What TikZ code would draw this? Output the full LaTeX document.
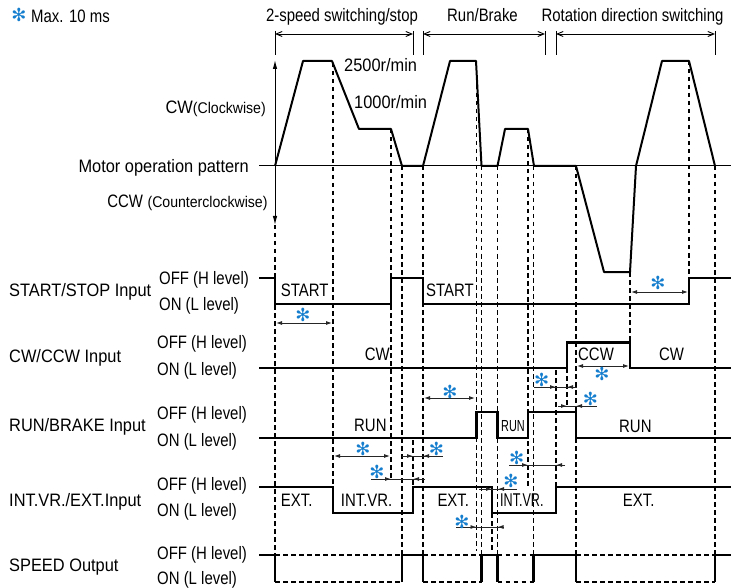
\documentclass[tikz,border=0pt]{standalone}
\usepackage{fontspec}
\setmainfont{Liberation Sans}
\newfontfamily\fN[FakeStretch=0.83]{Liberation Sans}
\newfontfamily\fW[FakeStretch=0.91]{Liberation Sans}
\newfontfamily\fX[FakeStretch=0.68]{Liberation Sans}
\newfontfamily\fSym{DejaVu Sans}
\usetikzlibrary{arrows.meta}
\definecolor{astblue}{RGB}{20,125,205}
\newcommand\odim[5]{%
  \draw[dim] (#2,#1) -- (#5,#1);
  \draw[dimtip] (#2,#1) -- (#3,#1);
  \draw[dimtip] (#5,#1) -- (#4,#1);
}
\tikzset{
  sig/.style={line width=2.1pt, line join=miter},
  wave/.style={line width=2pt, line join=round},
  guide/.style={line width=1.1pt, dash pattern=on 4.5pt off 3.5pt},
  dim/.style={line width=0.9pt, draw=black!85},
  dimtip/.style={dim, -{Latex[length=6pt,width=4pt]}},
  dimboth/.style={dim, {Latex[length=6pt,width=4pt]}-{Latex[length=6pt,width=4pt]}},
  brk/.style={line width=0.9pt, {Straight Barb[length=6pt,width=5pt]}-{Straight Barb[length=6pt,width=5pt]}},
  ast/.style={text=astblue, font=\fSym\fontsize{18}{18}\selectfont, inner sep=0pt},
  lbl/.style={font=\fW\fontsize{18}{20}\selectfont, inner sep=0pt, anchor=base west},
  lvl/.style={font=\fN\fontsize{18}{20}\selectfont, inner sep=0pt, anchor=base west},
  hdr/.style={font=\fN\fontsize{18}{20}\selectfont, inner sep=0pt, anchor=base},
}
\begin{document}
\begin{tikzpicture}[x=1pt,y=-1pt]
\useasboundingbox (0,0) rectangle (731,588);
% legend and headers
\node[ast] (legast) at (18.8,15.3) {✻};
\node[lvl] (leg) at (31,22.7) {Max. 10 ms};
\node[hdr] (h1) at (342,22) {2-speed switching/stop};
\node[hdr] (h2) at (482.5,22) {Run/Brake};
\node[hdr] (h3) at (632.5,22) {Rotation direction switching};
% brackets
\foreach \x in {275,413,423,545,556,715} \draw[line width=1pt] (\x,31) -- (\x,55);
\draw[brk] (275,34) -- (413,34);
\draw[brk] (423,34) -- (545,34);
\draw[brk] (556,34) -- (715,34);
% guides
\foreach \x/\a/\b in {275/225/555, 333/63/487, 391/129/480, 402/166/555, 413/440/487, 423/166/555, 476.5/61/551, 481.5/166/555, 492/513/551, 497.5/166/555, 528/129/487, 533.5/166/555, 556/370/487, 567/368/407, 576/166/555, 630/272/342, 689/61/278, 715/166/555}
  \draw[guide] (\x,\a) -- (\x,\b);
% motor pattern
\draw[line width=1pt, {Latex[length=9pt,width=4.5pt]}-{Latex[length=9pt,width=4.5pt]}] (275,225) -- (275,60);
\draw[line width=1pt] (259,166) -- (731,166);
\draw[wave] (275,166) -- (303,61) -- (332,61) -- (359,129) -- (391,129) -- (402,166) -- (423,166)
  -- (450,61) -- (476,61) -- (481.5,166) -- (497.5,166) -- (505,129) -- (528,129) -- (534,166)
  -- (576,166) -- (604,272) -- (630,272) -- (636,166) -- (662,61) -- (689,61) -- (715,166);
\node[lbl, anchor=base east] (cwl) at (266,113.3) {CW{\fontsize{15.5}{16}\selectfont(Clockwise)}};
\node[lbl, anchor=base east] (mop) at (249,172.5) {Motor operation pattern};
\node[lbl, anchor=base east] (ccwl) at (267.7,207.3) {{\fN CCW} {\fontsize{15.5}{16}\selectfont(Counterclockwise)}};
\node[lbl] (s2500) at (344,71.7) {2500r/min};
\node[lbl] (s1000) at (354,109) {1000r/min};
% group labels
\node[lbl] (g1) at (9,296) {START/STOP Input};
\node[lbl] (g2) at (9,362.7) {CW/CCW Input};
\node[lbl] (g3) at (9,431.7) {RUN/BRAKE Input};
\node[lbl] (g4) at (9,506) {INT.VR./EXT.Input};
\node[lbl] (g5) at (9,571) {SPEED Output};
% level labels
\node[lvl] (o1) at (159,284) {OFF (H level)};
\node[lvl] (n1) at (159,310.7) {ON (L level)};
\node[lvl] (o2) at (157,348.3) {OFF (H level)};
\node[lvl] (n2) at (157,375) {ON (L level)};
\node[lvl] (o3) at (157,419.3) {OFF (H level)};
\node[lvl] (n3) at (157,446) {ON (L level)};
\node[lvl] (o4) at (157,490.7) {OFF (H level)};
\node[lvl] (n4) at (157,516.7) {ON (L level)};
\node[lvl] (o5) at (157,559.5) {OFF (H level)};
\node[lvl] (n5) at (157,584.3) {ON (L level)};
% signals
\draw[sig] (259,278) -- (275,278) -- (275,304) -- (391,304) -- (391,278) -- (423,278) -- (423,304) -- (689,304) -- (689,278) -- (731,278);
\draw[sig] (259,368) -- (567,368) -- (567,342.5) -- (630,342.5) -- (630,368) -- (731,368);
\draw[sig] (259,438) -- (476.5,438) -- (476.5,412) -- (497.5,412) -- (497.5,438) -- (528,438) -- (528,412) -- (576,412) -- (576,438) -- (731,438);
\draw[sig] (259,487) -- (333,487) -- (333,513) -- (413,513) -- (413,487) -- (492,487) -- (492,513) -- (556,513) -- (556,487) -- (731,487);
\draw[sig] (259,555) -- (275,555) -- (275,582);
\draw[sig] (402,582) -- (402,555) -- (423,555) -- (423,582);
\draw[sig] (481.5,582) -- (481.5,555) -- (497.5,555) -- (497.5,582);
\draw[sig] (533.5,582) -- (533.5,555) -- (576,555) -- (576,582);
\draw[sig] (715,582) -- (715,555) -- (731,555);
\foreach \a/\b in {275/402, 423/481.5, 497.5/533.5, 576/715} {
  \draw[guide] (\a,555) -- (\b,555);
  \draw[guide] (\a,582) -- (\b,582);
}
% signal texts
\node[lvl] (t1) at (280.7,296.7) {START};
\node[lvl] (t2) at (426,296.7) {START};
\node[lvl] (t3) at (364.7,360) {CW};
\node[lvl] (t4) at (578,360) {CCW};
\node[lvl] (t5) at (659,360) {CW};
\node[lvl] (t6) at (354,431.7) {RUN};
\node[lvl, font=\fX\fontsize{16}{18}\selectfont] (t7) at (501,431.7) {RUN};
\node[lvl] (t8) at (619,432) {RUN};
\node[lvl] (t9) at (280.7,506.7) {EXT.};
\node[lvl] (t10) at (340.7,506.7) {INT.VR.};
\node[lvl] (t11) at (437.3,506.7) {EXT.};
\node[lvl, font=\fX\fontsize{18.5}{20}\selectfont] (t12) at (500,506) {INT.VR.};
\node[lvl] (t13) at (622.7,506.7) {EXT.};
% timing dimensions
\draw[dimboth] (276,323) -- (332,323);
\draw[dimboth] (631,292) -- (688,292);
\draw[dimboth] (577,366) -- (629,366);
\odim{387}{534}{556}{567}{577}
\odim{406}{558}{567}{576}{597}
\draw[dimboth] (334,456) -- (390,456);
\odim{456}{402}{413}{423}{443}
\odim{479}{371}{391}{413}{425}
\draw[dimboth] (424,398) -- (475,398);
\odim{489}{479}{492}{498}{517}
\odim{527}{456}{476.5}{497.5}{503}
\odim{465}{509}{528}{556}{565}
% asterisks
\foreach \p/\q [count=\i] in {303/315, 658/283, 602/374, 541.7/380, 590.5/399, 363/448.5, 436.5/449.3, 377/471.7, 450/391.5, 511/481, 462/522, 516.7/458}
  \node[ast] (a\i) at (\p,\q) {✻};
\end{tikzpicture}
\end{document}
